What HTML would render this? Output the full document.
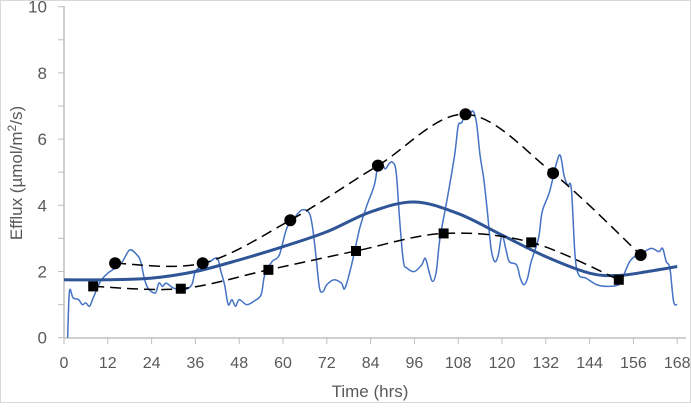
<!DOCTYPE html>
<html><head><meta charset="utf-8"><style>
html,body{margin:0;padding:0;background:#fff;}
svg text{font-family:"Liberation Sans",sans-serif;fill:#595959;}
</style></head><body>
<svg id="s" width="691" height="403" xmlns="http://www.w3.org/2000/svg">
<rect x="0.5" y="0.5" width="690" height="402" fill="#fff" stroke="#d9d9d9"/>
<g id="ax"></g>
<text x="370" y="397" font-size="17" text-anchor="middle">Time (hrs)</text>
<text transform="translate(22,173) rotate(-90)" font-size="17" text-anchor="middle">Efflux (µmol/m<tspan font-size="12" dy="-6">2</tspan><tspan dy="6">/s)</tspan></text>
</svg>
<script>
const X=t=>64+3.65*t, Y=v=>337.7-33.1*v;
const s=document.getElementById('ax');let h='';
h+=`<line x1="64" y1="6" x2="64" y2="338" stroke="#bfbfbf" stroke-width="1.5"/>`;
h+=`<line x1="64" y1="338" x2="686" y2="338" stroke="#bfbfbf" stroke-width="1.5"/>`;
for(let v=0;v<=10;v++){h+=`<line x1="58" x2="64" y1="${Y(v)}" y2="${Y(v)}" stroke="#bfbfbf"/>`;
 if(v%2==0)h+=`<text x="47" y="${Y(v)+6}" font-size="17" text-anchor="end">${v}</text>`;}
for(let t=0;t<=168;t+=12){h+=`<line x1="${X(t)}" x2="${X(t)}" y1="338" y2="344" stroke="#bfbfbf"/>`;
 h+=`<text x="${X(t)}" y="368" font-size="16" text-anchor="middle">${t}</text>`;}
function cr(p){let d=`M${X(p[0][0])},${Y(p[0][1])}`;for(let i=0;i<p.length-1;i++){const p0=p[i-1]||p[i],p1=p[i],p2=p[i+1],p3=p[i+2]||p[i+1];
 const a=[X(p1[0])+(X(p2[0])-X(p0[0]))/6,Y(p1[1])+(Y(p2[1])-Y(p0[1]))/6],b=[X(p2[0])-(X(p3[0])-X(p1[0]))/6,Y(p2[1])-(Y(p3[1])-Y(p1[1]))/6];
 d+=`C${a[0]},${a[1]} ${b[0]},${b[1]} ${X(p2[0])},${Y(p2[1])}`;}return d;}
const thin=[[1,0],[1.5,1.4],[2.5,1.2],[4,1.15],[5,1.0],[6,1.05],[7,0.95],[8,1.2],[10,1.7],[12,1.95],[14,2.1],[16,2.3],[18,2.65],[20,2.5],[21,2.3],[22,1.8],[23,1.5],[25,1.35],[26,1.65],[27,1.55],[28,1.65],[30,1.5],[33,1.45],[35,1.6],[36,2.0],[38,2.2],[40,2.3],[42,2.4],[43,2.0],[44,1.6],[45,1.0],[46,1.15],[47,0.95],[48,1.15],[50,1.0],[52,1.1],[54,1.3],[55,1.9],[57,2.3],[59,2.5],[61,3.3],[63,3.6],[65,3.85],[67,3.8],[68,3.4],[69,2.5],[70,1.5],[71,1.4],[72,1.6],[74,1.75],[76,1.65],[77,1.5],[79,2.3],[81,3.3],[83,4.0],[85,4.6],[86,5.2],[87,5.3],[88,5.1],[89,5.25],[90,5.3],[91,5.0],[92,3.5],[93,2.3],[94,2.1],[96,2.0],[98,2.2],[99,2.4],[100,2.0],[101,1.7],[102,2.0],[103,3.0],[105,4.2],[107,5.5],[108,6.4],[109,6.5],[110,6.8],[111,6.7],[112,6.85],[113,6.5],[114,5.5],[115,4.8],[116,3.8],[117,2.7],[118,2.3],[119,2.5],[120,3.1],[121,2.7],[122,2.3],[124,2.2],[125,1.8],[126,1.6],[127,1.8],[128,2.3],[130,3.0],[131,3.8],[133,4.4],[135,5.3],[136,5.5],[137,4.9],[138,4.6],[139,4.5],[140,2.5],[141,1.9],[143,1.8],[146,1.6],[149,1.55],[152,1.6],[153,1.8],[155,2.3],[157,2.5],[159,2.6],[161,2.7],[163,2.6],[164,2.7],[165,2.3],[166,2.1],[167,1.1],[168,1.0]];
h+=`<path d="${cr(thin)}" fill="none" stroke="#4472c4" stroke-width="1.5"/>`;
const thick=[[0,1.75],[12,1.75],[24,1.8],[36,2.0],[48,2.35],[60,2.75],[72,3.2],[84,3.8],[96,4.1],[108,3.75],[120,3.1],[132,2.45],[144,1.95],[152,1.88],[160,2.0],[168,2.15]];
h+=`<path d="${cr(thick)}" fill="none" stroke="#2f5597" stroke-width="3"/>`;
const c=[[14,2.25],[38,2.25],[62,3.55],[86,5.2],[110,6.75],[134,4.97],[158,2.5]];
const q=[[8,1.55],[32,1.48],[56,2.05],[80,2.62],[104,3.15],[128,2.88],[152,1.75]];
h+=`<path d="${cr(c)}" fill="none" stroke="#000" stroke-width="1.5" stroke-dasharray="11,6"/>`;
h+=`<path d="${cr(q)}" fill="none" stroke="#000" stroke-width="1.5" stroke-dasharray="11,6"/>`;
c.forEach(p=>h+=`<circle cx="${X(p[0])}" cy="${Y(p[1])}" r="6" fill="#000"/>`);
q.forEach(p=>h+=`<rect x="${X(p[0])-5}" y="${Y(p[1])-5}" width="10" height="10" fill="#000"/>`);
s.innerHTML=h;
</script>
</body></html>
